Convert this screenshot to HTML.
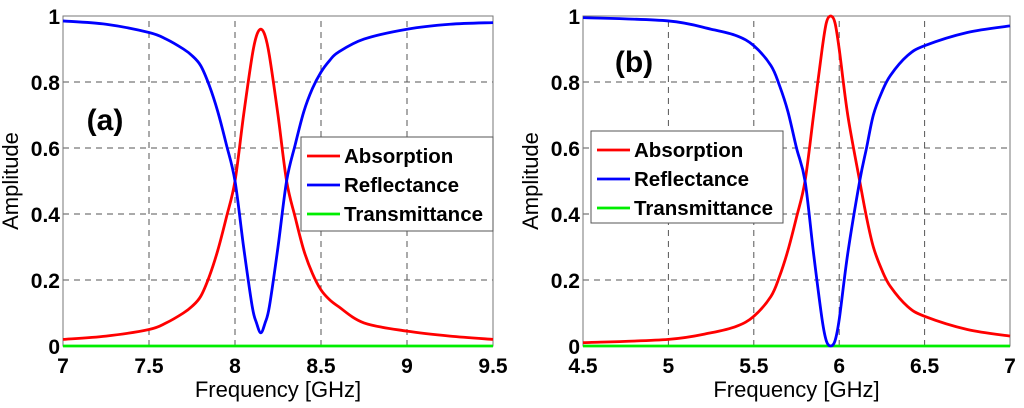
<!DOCTYPE html>
<html><head><meta charset="utf-8"><style>
html,body{margin:0;padding:0;background:#fff;width:1024px;height:408px;overflow:hidden}
svg text{font-family:"Liberation Sans",Arial,sans-serif}
</style></head><body>
<svg id="chart" width="1024" height="408" viewBox="0 0 1024 408"></svg>
<script>
const yTicks=[0,0.2,0.4,0.6,0.8,1];
const yTickLabels=["0","0.2","0.4","0.6","0.8","1"];
const aFreq=[7,7.25,7.5,7.6,7.7,7.75,7.8,7.85,7.9,7.95,8.0,8.05,8.1,8.125,8.15,8.175,8.2,8.25,8.3,8.35,8.4,8.45,8.5,8.55,8.6,8.75,9,9.25,9.5];
const aAbs=[0.02,0.03,0.05,0.07,0.10,0.12,0.15,0.21,0.29,0.39,0.50,0.70,0.88,0.94,0.96,0.94,0.88,0.70,0.50,0.39,0.29,0.22,0.17,0.14,0.12,0.07,0.045,0.03,0.02];
const aRef=[0.985,0.975,0.95,0.93,0.90,0.88,0.85,0.79,0.71,0.61,0.50,0.30,0.12,0.07,0.04,0.07,0.12,0.30,0.50,0.61,0.71,0.78,0.83,0.865,0.89,0.93,0.96,0.975,0.98];
const aTrans=aFreq.map(()=>0);
const aXTicks=[7,7.5,8,8.5,9,9.5];
const aXTickLabels=["7","7.5","8","8.5","9","9.5"];
const bFreq=[4.5,5,5.25,5.4,5.5,5.6,5.65,5.7,5.75,5.8,5.85,5.9,5.925,5.95,5.975,6.0,6.05,6.12,6.16,6.2,6.25,6.3,6.4,6.5,6.75,7];
const bAbs=[0.01,0.02,0.04,0.06,0.09,0.15,0.21,0.29,0.39,0.50,0.70,0.90,0.98,1.0,0.98,0.90,0.70,0.50,0.39,0.30,0.23,0.18,0.12,0.09,0.05,0.03];
const bRef=[0.995,0.985,0.96,0.94,0.91,0.85,0.79,0.71,0.60,0.50,0.28,0.08,0.015,0.0,0.015,0.08,0.28,0.50,0.60,0.70,0.77,0.82,0.88,0.91,0.95,0.97];
const bTrans=bFreq.map(()=>0);
const bXTicks=[4.5,5,5.5,6,6.5,7];
const bXTickLabels=["4.5","5","5.5","6","6.5","7"];

const svg=document.getElementById('chart');
const NS='http://www.w3.org/2000/svg';
function mk(tag,attrs,parent){const e=document.createElementNS(NS,tag);for(const k in attrs)e.setAttribute(k,attrs[k]);(parent||svg).appendChild(e);return e;}
function smoothPath(pts){
  let d='M'+pts[0][0]+','+pts[0][1];
  for(let i=0;i<pts.length-1;i++){
    const p0=pts[Math.max(0,i-1)],p1=pts[i],p2=pts[i+1],p3=pts[Math.min(pts.length-1,i+2)];
    const c1=[p1[0]+(p2[0]-p0[0])/6,p1[1]+(p2[1]-p0[1])/6];
    const c2=[p2[0]-(p3[0]-p1[0])/6,p2[1]-(p3[1]-p1[1])/6];
    d+=' C'+c1[0]+','+c1[1]+' '+c2[0]+','+c2[1]+' '+p2[0]+','+p2[1];
  }
  return d;
}
function panel(id,x0,x1,xmin,xmax,freq,abs,ref,trans,xt,xtl,label,labelPos,leg){
  const y0=346,y1=16;
  const g=mk('g',{});
  
  
  const X=v=>x0+(v-xmin)/(xmax-xmin)*(x1-x0);
  const Y=v=>y0+(v-0)/(1-0)*(y1-y0);
  xt.forEach((v,i)=>{
    if(i>0&&i<xt.length-1){const l=mk('line',{x1:X(v),x2:X(v),y1:y0,y2:y1,stroke:'#555','stroke-width':1,'stroke-dasharray':'6,5'},g);
    }
    const t=mk('text',{x:X(v),y:373,'text-anchor':'middle','font-size':21,'font-weight':'bold',fill:'#000'},g);
    t.textContent=xtl[i];
    
  });
  yTicks.forEach((v,i)=>{
    if(i>0&&i<yTicks.length-1){const l=mk('line',{x1:x0,x2:x1,y1:Y(v),y2:Y(v),stroke:'#555','stroke-width':1,'stroke-dasharray':'6,5'},g);
    }
    const t=mk('text',{x:x0-3,y:Y(v)+8,'text-anchor':'end','font-size':21,'font-weight':'bold',fill:'#000'},g);
    t.textContent=yTickLabels[i];
    
  });
  const fr=mk('rect',{x:x0,y:y1,width:x1-x0,height:y0-y1,fill:'none',stroke:'#777','stroke-width':1},g);
  
  const series=[[trans,'#00ee00','transmittance-line'],[abs,'#ff0000','absorption-line'],[ref,'#0000ff','reflectance-line']];
  series.forEach(s=>{
    const pts=freq.map((f,i)=>[X(f),Y(s[0][i])]);
    const p=mk('path',{d:smoothPath(pts),fill:'none',stroke:s[1],'stroke-width':2.8},g);
    
  });
  const lb=mk('text',{x:labelPos[0],y:labelPos[1],'text-anchor':'middle','font-size':30,'font-weight':'bold',fill:'#000'},g);
  lb.textContent=label;
  const xl=mk('text',{x:(x0+x1)/2,y:397,'text-anchor':'middle','font-size':22,fill:'#000'},g);
  xl.textContent='Frequency [GHz]';
  const yx=x0-45,yy=(y0+y1)/2;
  const yl=mk('text',{x:yx,y:yy,'text-anchor':'middle','font-size':22,fill:'#000',transform:'rotate(-90 '+yx+' '+yy+')'},g);
  yl.textContent='Amplitude';
  const lg=mk('g',{},g);
  const r=mk('rect',{x:leg[0],y:leg[1],width:leg[2],height:leg[3],fill:'#fff',stroke:'#555','stroke-width':1},lg);
  
  [['Absorption','#ff0000'],['Reflectance','#0000ff'],['Transmittance','#00ee00']].forEach((e,i)=>{
    const cy=leg[1]+19+i*29;
    const ln=mk('line',{x1:leg[0]+6,x2:leg[0]+39,y1:cy,y2:cy,stroke:e[1],'stroke-width':2.8},lg);
    
    const t=mk('text',{x:leg[0]+43,y:cy+7,'font-size':20.5,'font-weight':'bold',fill:'#000'},lg);
    t.textContent=e[0];
  });
}
panel('a',63,493,7,9.5,aFreq,aAbs,aRef,aTrans,aXTicks,aXTickLabels,'(a)',[105,130],[301,137,192,94]);
panel('b',583,1010,4.5,7,bFreq,bAbs,bRef,bTrans,bXTicks,bXTickLabels,'(b)',[634,72],[591,131,192,92]);
</script>
</body></html>
